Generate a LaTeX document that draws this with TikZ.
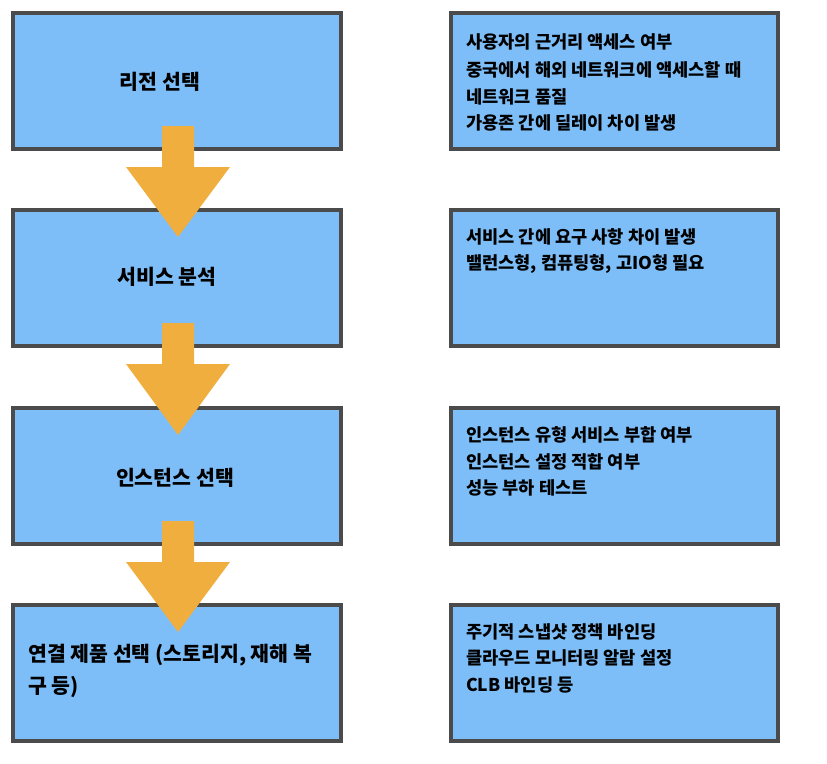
\documentclass[tikz,border=0pt]{standalone}
\usepackage{fontspec}
\setmainfont{Noto Sans CJK KR}
\usetikzlibrary{calc}
\definecolor{boxfill}{RGB}{125,190,248}
\definecolor{boxline}{RGB}{75,75,75}
\definecolor{arrowfill}{RGB}{240,174,62}
\tikzset{
  stepbox/.style={draw=boxline, line width=4pt, fill=boxfill, rectangle,
    minimum width=328pt, minimum height=136pt, inner sep=0pt, outer sep=0pt},
  notebox/.style={draw=boxline, line width=4pt, fill=boxfill, rectangle,
    minimum width=327pt, minimum height=136pt, inner sep=0pt, outer sep=0pt},
  steptext/.style={font=\fontsize{20.5}{24}\selectfont\bfseries, inner sep=0pt},
  notetext/.style={font=\fontsize{17.6}{20}\selectfont\bfseries, inner sep=0pt, anchor=base west},
  flowarrow/.style={fill=arrowfill, draw=none}
}
\begin{document}
\begin{tikzpicture}[x=1pt,y=-1pt]
\useasboundingbox (0,0) rectangle (827,763);
% left step boxes
\node[stepbox] (L1) at (177,81) {};
\node[stepbox] (L2) at (177,278) {};
\node[stepbox] (L3) at (177,476) {};
\node[stepbox] (L4) at (177,673) {};
% right note boxes
\node[notebox] (R1) at (614.5,81) {};
\node[notebox] (R2) at (614.5,278) {};
\node[notebox] (R3) at (614.5,476) {};
\node[notebox] (R4) at (614.5,673) {};
% arrows between step boxes
\foreach \a/\b in {L1/L2, L2/L3, L3/L4}{
  \coordinate (top) at ($(\a.south)+(1,-23)$);
  \coordinate (tip) at ($(\b.north)+(1,27)$);
  \fill[flowarrow] ($(top)+(-16,0)$) -- ($(top)+(16,0)$) -- ($(top)+(16,41)$)
    -- ($(top)+(52,41)$) -- (tip) -- ($(top)+(-52,41)$) -- ($(top)+(-16,41)$) -- cycle;
}
% left labels
\node[steptext] (t1) at (160,82) {리전 선택};
\node[steptext] (t2) at (167,277) {서비스 분석};
\node[steptext] (t3) at (175,478) {인스턴스 선택};
\node[steptext, anchor=west] (t4a) at (28,655) {연결 제품 선택 (스토리지, 재해 복};
\node[steptext, anchor=west] (t4b) at (28,687) {구 등)};
% right notes
\node[notetext] (n1a) at (466,48) {사용자의 근거리 액세스 여부};
\node[notetext] (n1b) at (466,76) {중국에서 해외 네트워크에 액세스할 때};
\node[notetext] (n1c) at (466,103) {네트워크 품질};
\node[notetext] (n1d) at (466,129) {가용존 간에 딜레이 차이 발생};
\node[notetext] (n2a) at (466,243) {서비스 간에 요구 사항 차이 발생};
\node[notetext] (n2b) at (466,269) {밸런스형, 컴퓨팅형, 고IO형 필요};
\node[notetext] (n3a) at (466,441) {인스턴스 유형 서비스 부합 여부};
\node[notetext] (n3b) at (466,468) {인스턴스 설정 적합 여부};
\node[notetext] (n3c) at (466,494) {성능 부하 테스트};
\node[notetext] (n4a) at (466,638) {주기적 스냅샷 정책 바인딩};
\node[notetext] (n4b) at (466,664) {클라우드 모니터링 알람 설정};
\node[notetext] (n4c) at (466,691) {CLB 바인딩 등};
\end{tikzpicture}
\end{document}
